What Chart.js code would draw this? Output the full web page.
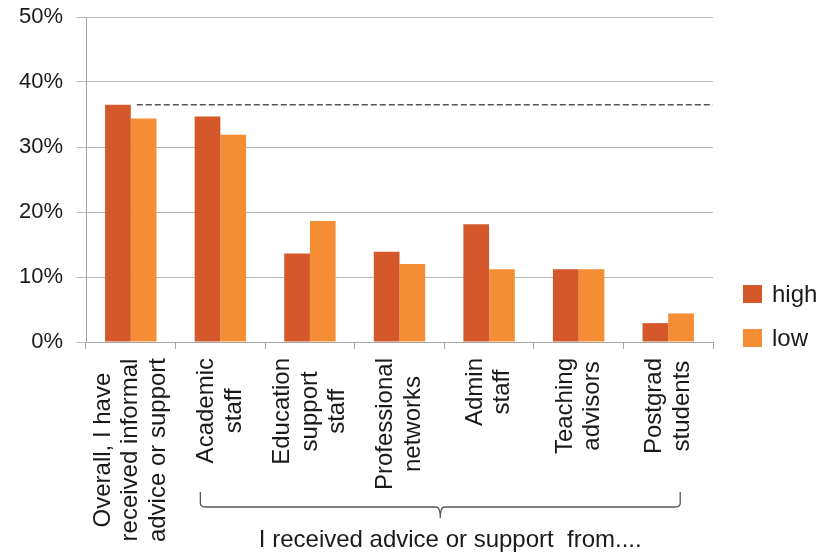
<!DOCTYPE html>
<html>
<head>
<meta charset="utf-8">
<script src="https://cdn.jsdelivr.net/npm/chart.js@4"></script>
<style>
  html, body { margin: 0; padding: 0; background: #fff; }
  #wrap { width: 825px; height: 557px; }
</style>
</head>
<body>
<div id="wrap"><canvas id="chart" width="825" height="557"></canvas></div>
<script>
// data (percent)
const categories = [
  ['Overall, I have', 'received informal', 'advice or support'],
  ['Academic', 'staff'],
  ['Education', 'support', 'staff'],
  ['Professional', 'networks'],
  ['Admin', 'staff'],
  ['Teaching', 'advisors'],
  ['Postgrad', 'students']
];
const seriesNames = ['high', 'low'];
const highValues = [36.5, 34.7, 13.6, 13.9, 18.1, 11.2, 2.9];
const lowValues = [34.4, 31.9, 18.6, 12.0, 11.2, 11.2, 4.4];
const yTicks = [0, 10, 20, 30, 40, 50];
const groupCaption = 'I received advice or support  from....';

const colors = ['#d4582a', '#f58d35'];
const FONT = '"Liberation Sans", Arial, Helvetica, sans-serif';
const TEXT = '#1a1a1a';

// draws the rotated category labels, the brace + caption, the dashed reference line and the legend
const extras = {
  id: 'extras',
  afterDatasetsDraw(chart) {
    const ctx = chart.ctx;
    const xs = chart.scales.x, ys = chart.scales.y;
    const y = ys.getPixelForValue(highValues[0]);
    ctx.save();
    ctx.strokeStyle = '#555';
    ctx.lineWidth = 1.3;
    ctx.setLineDash([6, 3]);
    ctx.beginPath();
    ctx.moveTo(xs.getPixelForValue(0) + 6, y);
    ctx.lineTo(chart.chartArea.right, y);
    ctx.stroke();
    ctx.restore();
  },
  afterDraw(chart) {
    const ctx = chart.ctx;
    const xs = chart.scales.x;
    const top = xs.top;

    // category labels, rotated, each block centred on its category
    ctx.save();
    ctx.font = '24px ' + FONT;
    ctx.fillStyle = TEXT;
    ctx.textAlign = 'center';
    ctx.textBaseline = 'middle';
    const lh = 27.5;
    categories.forEach((lines, i) => {
      const cx = xs.getPixelForValue(i);
      const maxW = Math.max(...lines.map(l => ctx.measureText(l).width));
      const cy = top + 16 + maxW / 2;
      lines.forEach((line, j) => {
        ctx.save();
        ctx.translate(cx + (j - (lines.length - 1) / 2) * lh, cy);
        ctx.rotate(-Math.PI / 2);
        ctx.fillText(line, 0, 0);
        ctx.restore();
      });
    });
    ctx.restore();

    // brace under the "from" categories
    const left = xs.getPixelForValue(1) - 20;
    const right = xs.getPixelForValue(categories.length - 1) + 12;
    const mid = (left + right) / 2;
    const b0 = top + 150, b1 = top + 165, b2 = top + 176;
    ctx.save();
    ctx.strokeStyle = '#555';
    ctx.lineWidth = 1.3;
    ctx.beginPath();
    ctx.moveTo(left, b0);
    ctx.lineTo(left, b1 - 4);
    ctx.quadraticCurveTo(left, b1, left + 5, b1);
    ctx.lineTo(mid - 4, b1);
    ctx.quadraticCurveTo(mid, b1, mid, b2);
    ctx.quadraticCurveTo(mid, b1, mid + 4, b1);
    ctx.lineTo(right - 5, b1);
    ctx.quadraticCurveTo(right, b1, right, b1 - 4);
    ctx.lineTo(right, b0);
    ctx.stroke();
    ctx.font = '24px ' + FONT;
    ctx.fillStyle = TEXT;
    ctx.textAlign = 'center';
    ctx.textBaseline = 'alphabetic';
    ctx.fillText(groupCaption, mid + 10, top + 205);
    ctx.restore();

    // legend
    ctx.save();
    ctx.font = '24px ' + FONT;
    ctx.textBaseline = 'middle';
    ctx.textAlign = 'left';
    const lx = chart.chartArea.right + 30;
    seriesNames.forEach((name, i) => {
      const ly = 294 + i * 44;
      ctx.fillStyle = colors[i];
      ctx.fillRect(lx, ly - 9, 19, 18);
      ctx.fillStyle = TEXT;
      ctx.fillText(name, lx + 29, ly + 1);
    });
    ctx.restore();
  }
};

new Chart(document.getElementById('chart'), {
  type: 'bar',
  data: {
    labels: categories,
    datasets: [
      { label: seriesNames[0], data: highValues, backgroundColor: colors[0] },
      { label: seriesNames[1], data: lowValues, backgroundColor: colors[1] }
    ]
  },
  options: {
    responsive: false,
    animation: false,
    devicePixelRatio: 1,
    layout: { padding: { top: 17, right: 112, left: 0, bottom: 0 } },
    datasets: { bar: { categoryPercentage: 0.574, barPercentage: 1.0 } },
    plugins: {
      legend: { display: false },
      tooltip: { enabled: false }
    },
    scales: {
      x: {
        offset: true,
        grid: { display: true, drawOnChartArea: false, offset: true, tickLength: 7, color: '#a6a6a6' },
        border: { display: true, color: '#a6a6a6' },
        ticks: { display: false },
        afterFit(scale) { scale.height = 215; }
      },
      y: {
        min: 0,
        max: 50,
        afterBuildTicks(scale) { scale.ticks = yTicks.map(v => ({ value: v })); },
        grid: { color: '#b8b8b8', tickLength: 9 },
        border: { display: true, color: '#a6a6a6' },
        ticks: {
          padding: 14,
          color: TEXT,
          font: { family: FONT, size: 22 },
          callback: v => v + '%'
        },
        afterFit(scale) {
          scale.width = 86;
          scale.paddingTop = 0;
          scale.paddingBottom = 0;
        }
      }
    }
  },
  plugins: [extras]
});
</script>
</body>
</html>
